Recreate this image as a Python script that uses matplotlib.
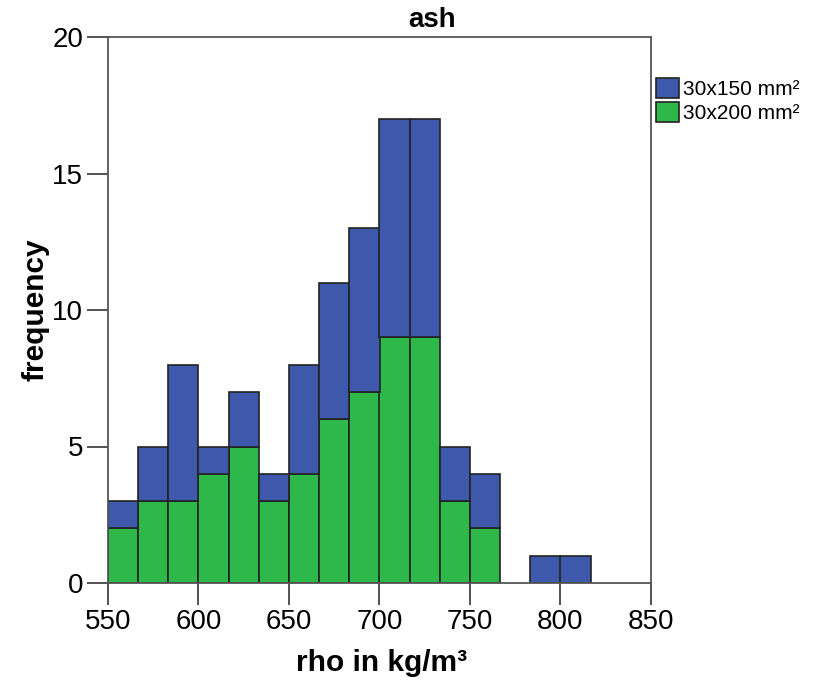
import numpy as np
import matplotlib.pyplot as plt

plt.rcParams['font.family'] = ['Liberation Sans', 'DejaVu Sans']

# histogram counts per bin (bins of 300/18 kg/m3 starting at 550)
bin_start = 550
bin_width = 300 / 18
counts_150 = [1, 2, 5, 1, 2, 1, 4, 5, 6, 8, 8, 2, 2, 0, 1, 1]
counts_200 = [2, 3, 3, 4, 5, 3, 4, 6, 7, 9, 9, 3, 2, 0, 0, 0]
labels = ["30x150 mm²", "30x200 mm²"]
col_150 = "#3e58ac"
col_200 = "#2fb84a"

n = len(counts_150)
left = bin_start + bin_width * np.arange(n)

fig = plt.figure(figsize=(8.15, 6.81), dpi=100)
ax = fig.add_axes([108/815, 1-583/681, (651-108)/815, (583-37)/681])

b2 = ax.bar(left, counts_200, width=bin_width, align='edge', color=col_200,
            edgecolor='#222222', linewidth=1.2, label=labels[1])
b1 = ax.bar(left, counts_150, width=bin_width, align='edge', bottom=counts_200,
            color=col_150, edgecolor='#222222', linewidth=1.2, label=labels[0])
# empty bins should not show edges
for b in list(b1) + list(b2):
    if b.get_height() == 0:
        b.set_visible(False)

ax.set_xlim(550, 850)
ax.set_ylim(0, 20)
ax.set_xticks([550, 600, 650, 700, 750, 800, 850])
ax.set_yticks([0, 5, 10, 15, 20])
for s in ax.spines.values():
    s.set_color('#555555')
    s.set_linewidth(1.3)
ax.tick_params(axis='both', direction='out', length=15, width=1.3,
               color='#444444', labelsize=20, pad=3)
ax.tick_params(axis='x', length=16)

fig.text(35/815, 1-310/681, "frequency", rotation=90, ha='center', va='center',
         fontsize=21.5, fontweight='bold')
fig.text(382/815, 1-663/681, "rho in kg/m³", ha='center', va='center',
         fontsize=21.5, fontweight='bold')
fig.text(432/815, 1-20/681, "ash", ha='center', va='center',
         fontsize=20, fontweight='bold')

fig.legend(handles=[b1, b2], labels=labels, loc='upper left',
           bbox_to_anchor=(652/815, 1-74/681), frameon=False, fontsize=15,
           handlelength=1.1, handleheight=1.1, handletextpad=0.2,
           labelspacing=0.15, borderaxespad=0, borderpad=0.2)

fig.savefig("out.png", dpi=100)
